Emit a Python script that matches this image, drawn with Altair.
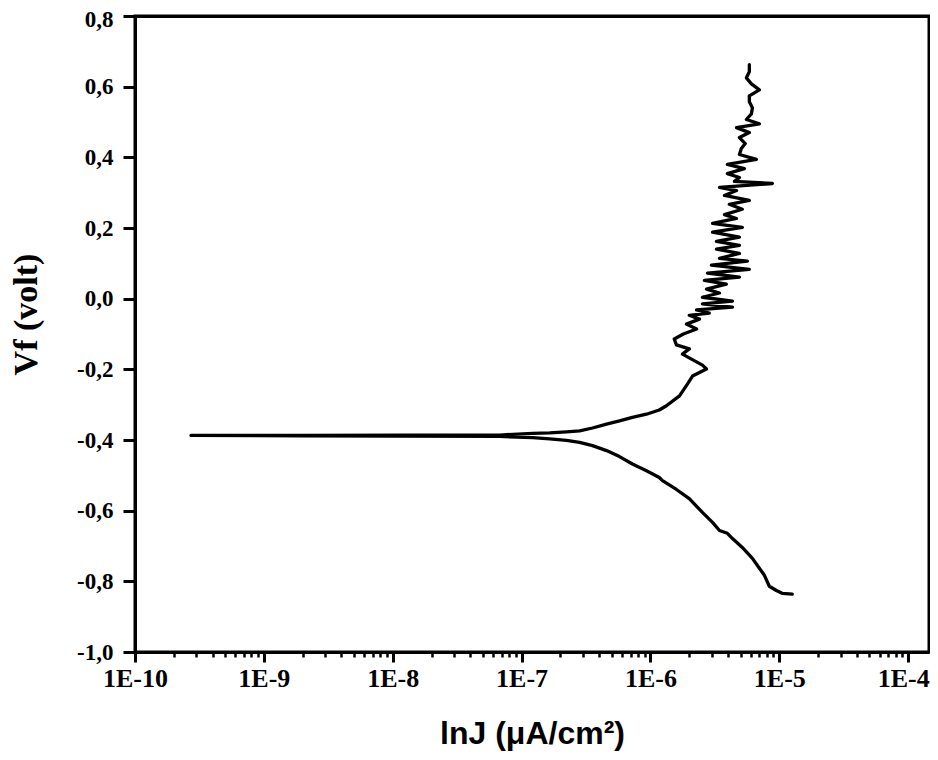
import altair as alt
import pandas as pd

# Potential (V) along the sweep, from the cathodic end upward
potential_v = [
    # cathodic branch
    -0.836, -0.834, -0.826, -0.814, -0.783, -0.763, -0.735, -0.704, -0.679, -0.664,
    -0.656, -0.633, -0.605, -0.566, -0.540, -0.515, -0.506, -0.487, -0.468, -0.447,
    -0.430, -0.416, -0.407, -0.401, -0.397, -0.393, -0.390, -0.389, -0.388, -0.387,
    # anodic branch
    -0.387, -0.386, -0.386, -0.381, -0.380, -0.377, -0.374, -0.366, -0.355, -0.346,
    -0.336, -0.327, -0.315, -0.303, -0.275, -0.241, -0.219, -0.209, -0.199,
    # noisy passive region
    -0.188, -0.171, -0.157, -0.142, -0.131, -0.114, -0.100, -0.086, -0.072, -0.058,
    -0.047, -0.041, -0.032, -0.024, -0.015, -0.007, 0.004, 0.016, 0.027, 0.041,
    0.052, 0.061, 0.072, 0.083, 0.095, 0.106, 0.114, 0.128, 0.140, 0.151,
    0.162, 0.174, 0.188, 0.202, 0.213, 0.227, 0.238, 0.253, 0.267, 0.278,
    0.292, 0.306, 0.315, 0.326, 0.332, 0.343, 0.354, 0.368, 0.380, 0.394,
    0.408, 0.425, 0.439, 0.456, 0.470, 0.484, 0.495, 0.507, 0.523, 0.540,
    0.557, 0.574, 0.591, 0.608, 0.625, 0.642, 0.662,
]

# Current density (log axis)
current_j = [
    # cathodic branch
    1.26e-5, 1.05e-5, 9.48e-6, 8.36e-6, 7.66e-6, 7.00e-6, 6.18e-6, 5.16e-6, 4.33e-6, 3.95e-6,
    3.43e-6, 3.03e-6, 2.53e-6, 2.00e-6, 1.59e-6, 1.24e-6, 1.17e-6, 9.31e-7, 7.24e-7, 5.75e-7,
    4.56e-7, 3.55e-7, 2.82e-7, 2.23e-7, 1.65e-7, 1.22e-7, 6.75e-8, 1.10e-8, 2.00e-9, 2.72e-10,
    # anodic branch
    2.00e-9, 1.20e-8, 6.75e-8, 1.22e-7, 1.65e-7, 2.23e-7, 2.82e-7, 3.55e-7, 4.56e-7, 5.75e-7,
    7.24e-7, 9.31e-7, 1.17e-6, 1.33e-6, 1.68e-6, 1.94e-6, 2.12e-6, 2.40e-6, 2.72e-6,
    # noisy passive region
    2.53e-6, 2.08e-6, 1.77e-6, 2.00e-6, 1.59e-6, 1.53e-6, 1.80e-6, 2.28e-6, 1.90e-6, 2.40e-6,
    2.00e-6, 2.86e-6, 2.28e-6, 4.33e-6, 2.53e-6, 4.33e-6, 2.53e-6, 3.43e-6, 2.72e-6, 3.88e-6,
    2.62e-6, 4.90e-6, 2.77e-6, 5.85e-6, 2.97e-6, 5.65e-6, 3.43e-6, 4.90e-6, 3.25e-6, 4.90e-6,
    3.25e-6, 4.90e-6, 3.03e-6, 5.16e-6, 3.03e-6, 4.65e-6, 3.75e-6, 5.16e-6, 4.09e-6, 5.85e-6,
    3.75e-6, 4.65e-6, 3.43e-6, 8.83e-6, 4.48e-6, 4.90e-6, 3.95e-6, 5.36e-6, 3.95e-6, 6.64e-6,
    4.90e-6, 5.07e-6, 5.44e-6, 4.90e-6, 5.85e-6, 4.65e-6, 7.00e-6, 5.55e-6, 6.07e-6, 6.18e-6,
    5.85e-6, 5.85e-6, 7.00e-6, 6.07e-6, 5.55e-6, 5.85e-6, 5.85e-6,
]

x_decades = [1e-10, 1e-9, 1e-8, 1e-7, 1e-6, 1e-5, 1e-4]
x_ticks = [m * d for d in x_decades[:-1] for m in range(1, 10)] + [1e-4]
y_ticks = [0.8, 0.6, 0.4, 0.2, 0.0, -0.2, -0.4, -0.6, -0.8, -1.0]

df = pd.DataFrame({"J": current_j, "V": potential_v, "i": list(range(len(current_j)))})

is_major = "abs(log(datum.value)/LN10 - round(log(datum.value)/LN10)) < 0.01"
is_last = "datum.value > 5e-5"

x_scale = alt.Scale(type="log", domain=[1e-10, 1.45e-4], nice=False)
y_scale = alt.Scale(domain=[-1.0, 0.8], nice=False, zero=False)

x_axis = alt.Axis(
    orient="bottom",
    values=x_ticks,
    labelExpr=f"{is_major} ? '1E' + round(log(datum.value)/LN10) : ''",
    tickSize={"condition": {"test": is_major, "value": 10}, "value": 5},
    tickWidth={"condition": {"test": is_major, "value": 3}, "value": 2.5},
    tickColor="black",
    domainColor="black",
    domainWidth=3,
    grid=False,
    labelFont="Liberation Serif",
    labelFontWeight="bold",
    labelFontSize=26,
    labelColor="black",
    labelPadding=3,
    labelFlush=False,
    labelOverlap=False,
    labelAlign={"condition": {"test": is_last, "value": "right"}, "value": "center"},
    labelOffset={"condition": {"test": is_last, "value": 21}, "value": 0},
    title="lnJ (μA/cm²)",
    titleFont="Liberation Sans",
    titleFontWeight="bold",
    titleFontSize=32,
    titleColor="black",
    titlePadding=27,
)

y_axis = alt.Axis(
    orient="left",
    values=y_ticks,
    labelExpr="replace(replace(format(datum.value, '.1f'), '.', ','), '\u2212', '-')",
    tickSize=12,
    tickWidth=3,
    tickColor="black",
    domainColor="black",
    domainWidth=3,
    grid=False,
    labelFont="Liberation Serif",
    labelFontWeight="bold",
    labelFontSize=23,
    labelColor="black",
    labelPadding=10,
    labelFlush=False,
    labelOverlap=False,
    labelOffset={"condition": {"test": "datum.value > 0.7", "value": 3}, "value": 0},
    title="Vf (volt)",
    titleFont="Liberation Serif",
    titleFontWeight="bold",
    titleFontSize=34,
    titleColor="black",
    titlePadding=33,
    titleY=298,
)

# top and right frame lines as bare axes
frame_x = alt.Axis(orient="top", labels=False, ticks=False, grid=False, title=None,
                   domainColor="black", domainWidth=3)
frame_y = alt.Axis(orient="right", labels=False, ticks=False, grid=False, title=None,
                   domainColor="black", domainWidth=3)

curve = (
    alt.Chart(df)
    .mark_line(color="black", strokeWidth=3.3, strokeJoin="round", strokeCap="round", clip=True)
    .encode(
        x=alt.X("J:Q", scale=x_scale, axis=x_axis),
        y=alt.Y("V:Q", scale=y_scale, axis=y_axis),
        order=alt.Order("i:Q"),
    )
)

frame = (
    alt.Chart(df)
    .mark_line(opacity=0)
    .encode(
        x=alt.X("J:Q", scale=x_scale, axis=frame_x),
        y=alt.Y("V:Q", scale=y_scale, axis=frame_y),
        order=alt.Order("i:Q"),
    )
)

chart = (
    alt.layer(curve, frame)
    .resolve_axis(x="independent", y="independent")
    .properties(
        width=794,
        height=636,
        autosize=alt.AutoSizeParams(type="none"),
        padding={"left": 127, "top": 8, "right": 1, "bottom": 100},
    )
    .configure_view(stroke="black", strokeWidth=3)
)

chart.save("out.html", embed_options={"renderer": "svg", "actions": False})
